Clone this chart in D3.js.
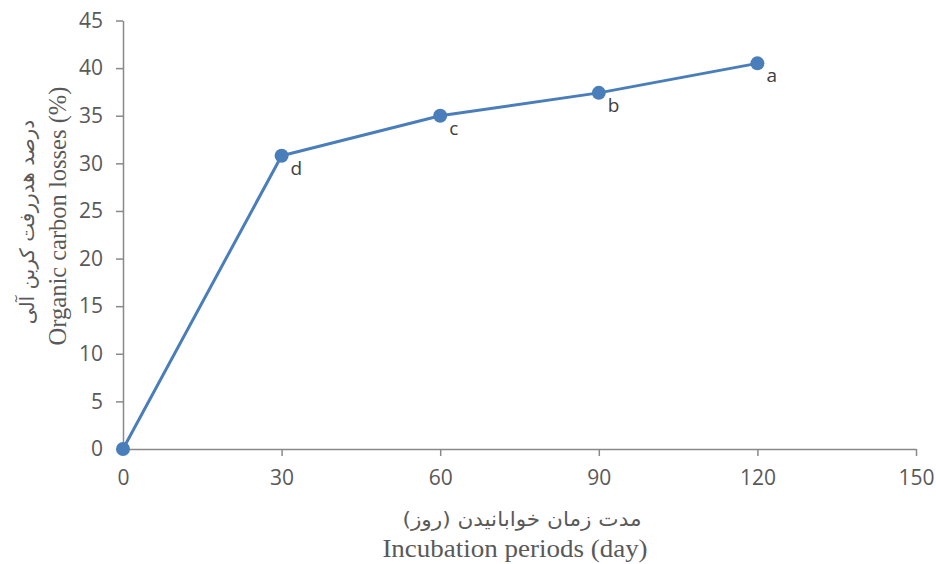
<!DOCTYPE html>
<html><head><meta charset="utf-8">
<script src="https://cdn.jsdelivr.net/npm/d3@7"></script>
<style>body{margin:0;background:#fff}</style>
</head><body>
<svg id="c" width="936" height="564"></svg>
<script>
const days = [0, 30, 60, 90, 120];
const losses = [0, 30.8, 35.0, 37.4, 40.5];
const letters = ["", "d", "c", "b", "a"];
const xTicks = [0, 30, 60, 90, 120, 150];
const yTicks = [0, 5, 10, 15, 20, 25, 30, 35, 40, 45];
const xTitleFa = "مدت زمان خوابانیدن (روز)";
const xTitleEn = "Incubation periods (day)";
const yTitleFa = "درصد هدررفت کربن آلی";
const yTitleEn = "Organic carbon losses (%)";

const svg = d3.select("#c");
const x = d3.scaleLinear().domain([0,150]).range([123,916]);
const y = d3.scaleLinear().domain([0,45]).range([449,20.5]);
const axisColor = "#898989", textColor = "#595959";
const tickFont = "Open Sans, Liberation Sans, sans-serif";

const gx = svg.append("g").attr("transform",`translate(0,${y(0)})`)
  .call(d3.axisBottom(x).tickValues(xTicks).tickSize(7).tickSizeOuter(0).tickPadding(14));
const gy = svg.append("g").attr("transform",`translate(${x(0)},0)`)
  .call(d3.axisLeft(y).tickValues(yTicks).tickSize(7).tickSizeOuter(0).tickPadding(13));
[gx,gy].forEach(g=>{
  g.select(".domain").attr("stroke",axisColor).attr("stroke-width",1.5);
  g.selectAll(".tick line").attr("stroke",axisColor).attr("stroke-width",1.5);
  g.selectAll(".tick text").attr("fill",textColor).style("font-family",tickFont).style("font-size","21px");
});
gx.selectAll(".tick").filter(d=>d===0).select("line").remove();

const line = d3.line().x((d,i)=>x(days[i])).y(d=>y(d));
svg.append("path").datum(losses).attr("d",line).attr("fill","none")
  .attr("stroke","#4a7ebb").attr("stroke-width",3).attr("stroke-linejoin","round");
svg.selectAll("circle.pt").data(losses).join("circle").attr("class","pt")
  .attr("cx",(d,i)=>x(days[i])).attr("cy",d=>y(d)).attr("r",7).attr("fill","#4a7ebb");
svg.selectAll("text.lbl").data(losses).join("text").attr("class","lbl")
  .attr("x",(d,i)=>x(days[i])+9).attr("y",d=>y(d)+19)
  .attr("fill","#404040").style("font-family",tickFont).style("font-size","19px")
  .text((d,i)=>letters[i]);

const serif = "Liberation Serif, Times New Roman, serif";
const fa = "DejaVu Sans, sans-serif";
svg.append("text").attr("transform","translate(522,526) scale(1.08,1)").attr("text-anchor","middle")
  .attr("fill",textColor).style("font-family",fa).style("font-size","20px").text(xTitleFa);
svg.append("text").attr("transform","translate(515,557) scale(1.08,1)").attr("text-anchor","middle")
  .attr("fill",textColor).style("font-family",serif).style("font-size","25px").text(xTitleEn);
svg.append("text").attr("transform","translate(34,222) rotate(-90)").attr("text-anchor","middle")
  .attr("fill",textColor).style("font-family",fa).style("font-size","20px").text(yTitleFa);
svg.append("text").attr("transform","translate(66,216) rotate(-90)").attr("text-anchor","middle")
  .attr("fill",textColor).style("font-family",serif).style("font-size","24.5px").text(yTitleEn);
</script>
</body></html>
